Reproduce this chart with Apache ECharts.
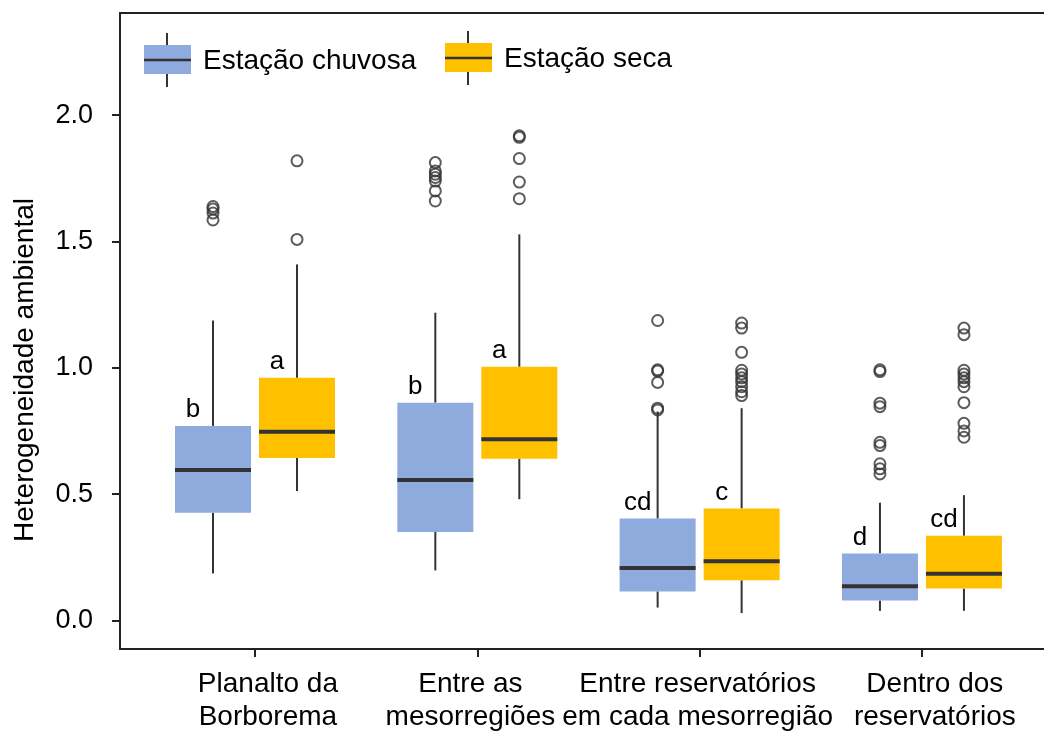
<!DOCTYPE html>
<html>
<head>
<meta charset="utf-8">
<script src="https://cdn.jsdelivr.net/npm/echarts@6/dist/echarts.min.js"></script>
<style>
  html, body { margin: 0; padding: 0; background: #fff; }
  #chart { width: 1044px; height: 731px; }
</style>
</head>
<body>
<div id="chart"></div>
<script>
// Habitat heterogeneity by spatial scale, rainy vs dry season
const categories = [
  'Planalto da\nBorborema',
  'Entre as\nmesorregiões',
  'Entre reservatórios\nem cada mesorregião',
  'Dentro dos\nreservatórios'
];
const seasonNames = ['Estação chuvosa', 'Estação seca'];
const yTicks = [0, 0.5, 1.0, 1.5, 2.0];

// [lower whisker, Q1, median, Q3, upper whisker]
const rainyStats = [
  [0.186, 0.426, 0.595, 0.770, 1.187],
  [0.198, 0.350, 0.556, 0.862, 1.218],
  [0.051, 0.115, 0.208, 0.403, 0.827],
  [0.038, 0.079, 0.135, 0.265, 0.466]
];
const dryStats = [
  [0.512, 0.643, 0.747, 0.960, 1.409],
  [0.480, 0.640, 0.717, 1.004, 1.528],
  [0.029, 0.159, 0.234, 0.443, 0.840],
  [0.038, 0.126, 0.185, 0.335, 0.496]
];

const rainyOutliers = [
  [1.638, 1.628, 1.612, 1.585],
  [1.812, 1.779, 1.766, 1.753, 1.739, 1.700, 1.660],
  [1.187, 0.992, 0.987, 0.942, 0.840, 0.833],
  [0.992, 0.985, 0.860, 0.846, 0.705, 0.692, 0.620, 0.600, 0.580]
];
const dryOutliers = [
  [1.819, 1.508],
  [1.918, 1.912, 1.828, 1.735, 1.669],
  [1.177, 1.157, 1.061, 0.990, 0.975, 0.960, 0.945, 0.925, 0.905, 0.890],
  [1.157, 1.131, 0.990, 0.975, 0.960, 0.945, 0.925, 0.862, 0.780, 0.750, 0.725]
];

const rainyLetters = ['b', 'b', 'cd', 'd'];
const dryLetters = ['a', 'a', 'c', 'cd'];

const FONT = "'Liberation Sans', Arial, sans-serif";
const INK = '#333333';
const FRAME = '#222222';
const BLUE = '#8FAADC';
const GOLD = '#FFC000';

const BOX_OFFSET = 42;   // px from category centre
const BOX_HALF = 38;     // px half-width of each box

// category labels sit slightly off their tick marks
const labelNudge = [0.058, -0.031, -0.009, 0.058];
const labelPositions = labelNudge.map((d, i) => i + 1 + d);

function boxRenderer(offset, fill, letters) {
  return function (params, api) {
    const x = api.value(0);
    const cx = api.coord([x, 0])[0] + offset;
    const yLo = api.coord([x, api.value(1)])[1];
    const yQ1 = api.coord([x, api.value(2)])[1];
    const yMed = api.coord([x, api.value(3)])[1];
    const yQ3 = api.coord([x, api.value(4)])[1];
    const yHi = api.coord([x, api.value(5)])[1];
    const lineStyle = { stroke: INK, lineWidth: 2 };
    return {
      type: 'group',
      children: [
        { type: 'line', shape: { x1: cx, y1: yQ3, x2: cx, y2: yHi }, style: lineStyle },
        { type: 'line', shape: { x1: cx, y1: yQ1, x2: cx, y2: yLo }, style: lineStyle },
        { type: 'rect', shape: { x: cx - BOX_HALF, y: yQ3, width: BOX_HALF * 2, height: yQ1 - yQ3 },
          style: { fill: fill } },
        { type: 'line', shape: { x1: cx - BOX_HALF, y1: yMed, x2: cx + BOX_HALF, y2: yMed },
          style: { stroke: INK, lineWidth: 4 } },
        { type: 'text', style: {
            text: letters[params.dataIndex], x: cx - 20, y: yQ3 - 3,
            align: 'center', verticalAlign: 'bottom',
            fontSize: 26, fontFamily: FONT, fill: '#000' } }
      ]
    };
  };
}

function statsData(stats) {
  return stats.map((s, i) => [i + 1].concat(s));
}
function outlierData(list) {
  const out = [];
  list.forEach((vals, i) => vals.forEach(v => out.push([i + 1, v])));
  return out;
}

function legendItem(x, y, fill, label) {
  return [
    { type: 'line', shape: { x1: x + 23, y1: y - 12, x2: x + 23, y2: y + 42 },
      style: { stroke: INK, lineWidth: 2 } },
    { type: 'rect', shape: { x: x, y: y, width: 47, height: 29 }, style: { fill: fill } },
    { type: 'line', shape: { x1: x, y1: y + 15, x2: x + 47, y2: y + 15 },
      style: { stroke: INK, lineWidth: 2.5 } },
    { type: 'text', style: { text: label, x: x + 59, y: y + 16, verticalAlign: 'middle',
      fontSize: 28, fontFamily: FONT, fill: '#000' } }
  ];
}

const chart = echarts.init(document.getElementById('chart'), null, { renderer: 'canvas' });
chart.setOption({
  animation: false,
  backgroundColor: '#ffffff',
  // plot frame continues past the right edge of the canvas
  grid: { left: 120, top: 13, right: 0, height: 636, outerBoundsMode: 'none', containLabel: false },
  xAxis: [
    {
      type: 'value', min: 0.3927, max: 4.549,
      splitLine: { show: false },
      axisLine: { show: true, onZero: false, lineStyle: { color: FRAME, width: 2 } },
      axisTick: { show: true, customValues: [1, 2, 3, 4], length: 8, lineStyle: { color: FRAME, width: 2 } },
      axisLabel: {
        customValues: labelPositions,
        formatter: v => categories[Math.round(v) - 1],
        margin: 19, fontSize: 28, lineHeight: 33, fontFamily: FONT, color: '#000'
      }
    },
    {
      type: 'value', position: 'top', min: 0.3927, max: 4.549,
      splitLine: { show: false },
      axisLine: { show: true, onZero: false, lineStyle: { color: FRAME, width: 2 } },
      axisTick: { show: false }, axisLabel: { show: false }
    }
  ],
  yAxis: {
    type: 'value', min: -0.113, max: 2.404,
    splitLine: { show: false },
    axisLine: { show: true, onZero: false, lineStyle: { color: FRAME, width: 2 } },
    axisTick: { show: true, customValues: yTicks, length: 8, lineStyle: { color: FRAME, width: 2 } },
    axisLabel: {
      customValues: yTicks,
      formatter: v => v.toFixed(1),
      margin: 27, fontSize: 27, fontFamily: FONT, color: '#000'
    }
  },
  series: [
    {
      name: seasonNames[0], type: 'custom',
      renderItem: boxRenderer(-BOX_OFFSET, BLUE, rainyLetters),
      encode: { x: 0, y: [1, 2, 3, 4, 5] },
      data: statsData(rainyStats), z: 2
    },
    {
      name: seasonNames[1], type: 'custom',
      renderItem: boxRenderer(BOX_OFFSET, GOLD, dryLetters),
      encode: { x: 0, y: [1, 2, 3, 4, 5] },
      data: statsData(dryStats), z: 2
    },
    {
      type: 'scatter', data: outlierData(rainyOutliers),
      symbol: 'circle', symbolSize: 11, symbolOffset: [-BOX_OFFSET, 0],
      itemStyle: { color: 'transparent', borderColor: INK, borderWidth: 2 }, z: 3
    },
    {
      type: 'scatter', data: outlierData(dryOutliers),
      symbol: 'circle', symbolSize: 11, symbolOffset: [BOX_OFFSET, 0],
      itemStyle: { color: 'transparent', borderColor: INK, borderWidth: 2 }, z: 3
    }
  ],
  graphic: [
    { type: 'text', x: 25, y: 370, rotation: Math.PI / 2,
      style: { text: 'Heterogeneidade ambiental', align: 'center', verticalAlign: 'middle',
        fontSize: 28, fontFamily: FONT, fill: '#000' } }
  ].concat(legendItem(144, 45, BLUE, seasonNames[0]), legendItem(445, 43, GOLD, seasonNames[1]))
});
</script>
</body>
</html>
